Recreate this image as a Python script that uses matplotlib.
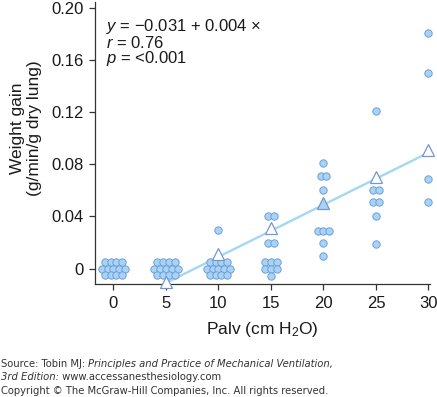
import matplotlib
matplotlib.use('Agg')
import matplotlib.pyplot as plt
import numpy as np

plt.rcParams['font.family'] = ['Liberation Sans', 'DejaVu Sans']
plt.rcParams['mathtext.fontset'] = 'custom'
plt.rcParams['mathtext.rm'] = 'Liberation Sans'
plt.rcParams['mathtext.it'] = 'Liberation Sans:italic'

# ---------------- data ----------------
pressures = [0, 5, 10, 15, 20, 25, 30]
gain_p0 = [0.005, 0.005, 0.005, 0.005, 0.0, 0.0, 0.0, 0.0, 0.0,
           -0.005, -0.005, -0.005, -0.005]
gain_p5 = [0.005, 0.005, 0.005, 0.005, 0.0, 0.0, 0.0, 0.0, 0.0,
           -0.005, -0.005, -0.005, -0.005]
gain_p10 = [0.030, 0.005, 0.005, 0.005, 0.005, 0.0, 0.0, 0.0, 0.0, 0.0,
            -0.005, -0.005, -0.005, -0.005]
gain_p15 = [0.040, 0.040, 0.020, 0.020, 0.005, 0.005, 0.005,
            0.0, 0.0, 0.0, -0.006]
gain_p20 = [0.081, 0.071, 0.071, 0.060, 0.029, 0.029, 0.029, 0.020, 0.010]
gain_p25 = [0.121, 0.060, 0.060, 0.051, 0.051, 0.040, 0.019]
gain_p30 = [0.181, 0.150, 0.069, 0.051]

mean_pressures = [5, 10, 15, 20, 25, 30]
mean_gain = [-0.010, 0.011, 0.031, 0.050, 0.0705, 0.091]

fit_intercept = -0.031
fit_slope = 0.004
fit_range = [5, 30]

x_ticks = [0, 5, 10, 15, 20, 25, 30]
y_ticks = [0, 0.04, 0.08, 0.12, 0.16, 0.20]
y_tick_labels = ['0', '0.04', '0.08', '0.12', '0.16', '0.20']

# ---------------- figure ----------------
W, H = 437, 397
fig = plt.figure(figsize=(W / 100, H / 100), dpi=100)
ax_left, ax_right, ax_bottom, ax_top = 94.5, 429.5, 284, 2
ax = fig.add_axes([ax_left / W, 1 - ax_bottom / H,
                   (ax_right - ax_left) / W, (ax_bottom - ax_top) / H])
xlim = (-1.8, 30.1)
ylim = (-0.0118, 0.2046)
ax.set_xlim(*xlim)
ax.set_ylim(*ylim)

circle_face = '#a9d3f4'
circle_edge = '#6d9fd9'
tri_edge = '#7397cf'
line_color = '#a3d8f4'

# horizontal spacing of equal-valued points (pixels -> data)
px_per_x = (ax_right - ax_left) / (xlim[1] - xlim[0])
spacing = 5.8 / px_per_x

groups = [gain_p0, gain_p5, gain_p10, gain_p15, gain_p20, gain_p25, gain_p30]
for p, vals in zip(pressures, groups):
    vals = np.asarray(vals)
    xs, ys = [], []
    for v in sorted(set(vals.tolist()), reverse=True):
        n = int(np.sum(vals == v))
        offs = (np.arange(n) - (n - 1) / 2) * spacing
        xs.extend(p + offs)
        ys.extend([v] * n)
    ax.plot(xs, ys, 'o', ms=5.3, mfc=circle_face, mec=circle_edge, mew=0.7,
            zorder=3, clip_on=False)

fx = np.array(fit_range, dtype=float)
ax.plot(fx, fit_intercept + fit_slope * fx, '-', color=line_color, lw=1.7,
        zorder=2, solid_capstyle='butt')

for p, m in zip(mean_pressures, mean_gain):
    face = circle_face if p == 20 else 'white'
    ax.plot([p], [m], '^', ms=8, mfc=face, mec=tri_edge, mew=0.9, zorder=4,
            clip_on=False)

for s in ['top', 'right']:
    ax.spines[s].set_visible(False)
for s in ['left', 'bottom']:
    ax.spines[s].set_color('#333333')
    ax.spines[s].set_linewidth(0.9)

ax.set_xticks(x_ticks)
ax.set_xticklabels([str(t) for t in x_ticks])
ax.set_yticks(y_ticks)
ax.set_yticklabels(y_tick_labels)
ax.tick_params(axis='both', direction='out', length=4, width=0.9,
               color='#333333', labelsize=12, labelcolor='#1a1a1a')
ax.tick_params(axis='x', pad=5)
ax.tick_params(axis='y', pad=4)

ax.set_xlabel('Palv (cm H$_2$O)', fontsize=12.5, color='#1a1a1a', labelpad=6)

fig.text(26 / W, 1 - 128 / H, 'Weight gain\n(g/min/g dry lung)', rotation=90,
         ha='center', va='center', multialignment='center', fontsize=12.5,
         color='#1a1a1a', linespacing=1.1)

ann = ['$\\it{y}$ = \u22120.031 + 0.004 \u00d7', '$\\it{r}$ = 0.76', '$\\it{p}$ = <0.001']
for i, t in enumerate(ann):
    fig.text(106 / W, 1 - (27 + 16 * i) / H, t, ha='left', va='center',
             fontsize=12, color='#1a1a1a')

# footer with mixed upright / italic pieces
foot_fs = 7.2
renderer = fig.canvas.get_renderer()


def line(pieces, y_px):
    x = 1.0 / W
    for txt, style in pieces:
        t = fig.text(x, 1 - y_px / H, txt, ha='left', va='center',
                     fontsize=foot_fs, style=style, family='DejaVu Sans',
                     color='#333333')
        bb = t.get_window_extent(renderer=renderer)
        x = bb.x1 / W


line([('Source: Tobin MJ: ', 'normal'),
      ('Principles and Practice of Mechanical Ventilation,', 'italic')], 364)
line([('3rd Edition:', 'italic'), (' www.accessanesthesiology.com', 'normal')], 377)
line([('Copyright \u00a9 The McGraw-Hill Companies, Inc. All rights reserved.', 'normal')], 391)

fig.savefig('out.png', dpi=100)
